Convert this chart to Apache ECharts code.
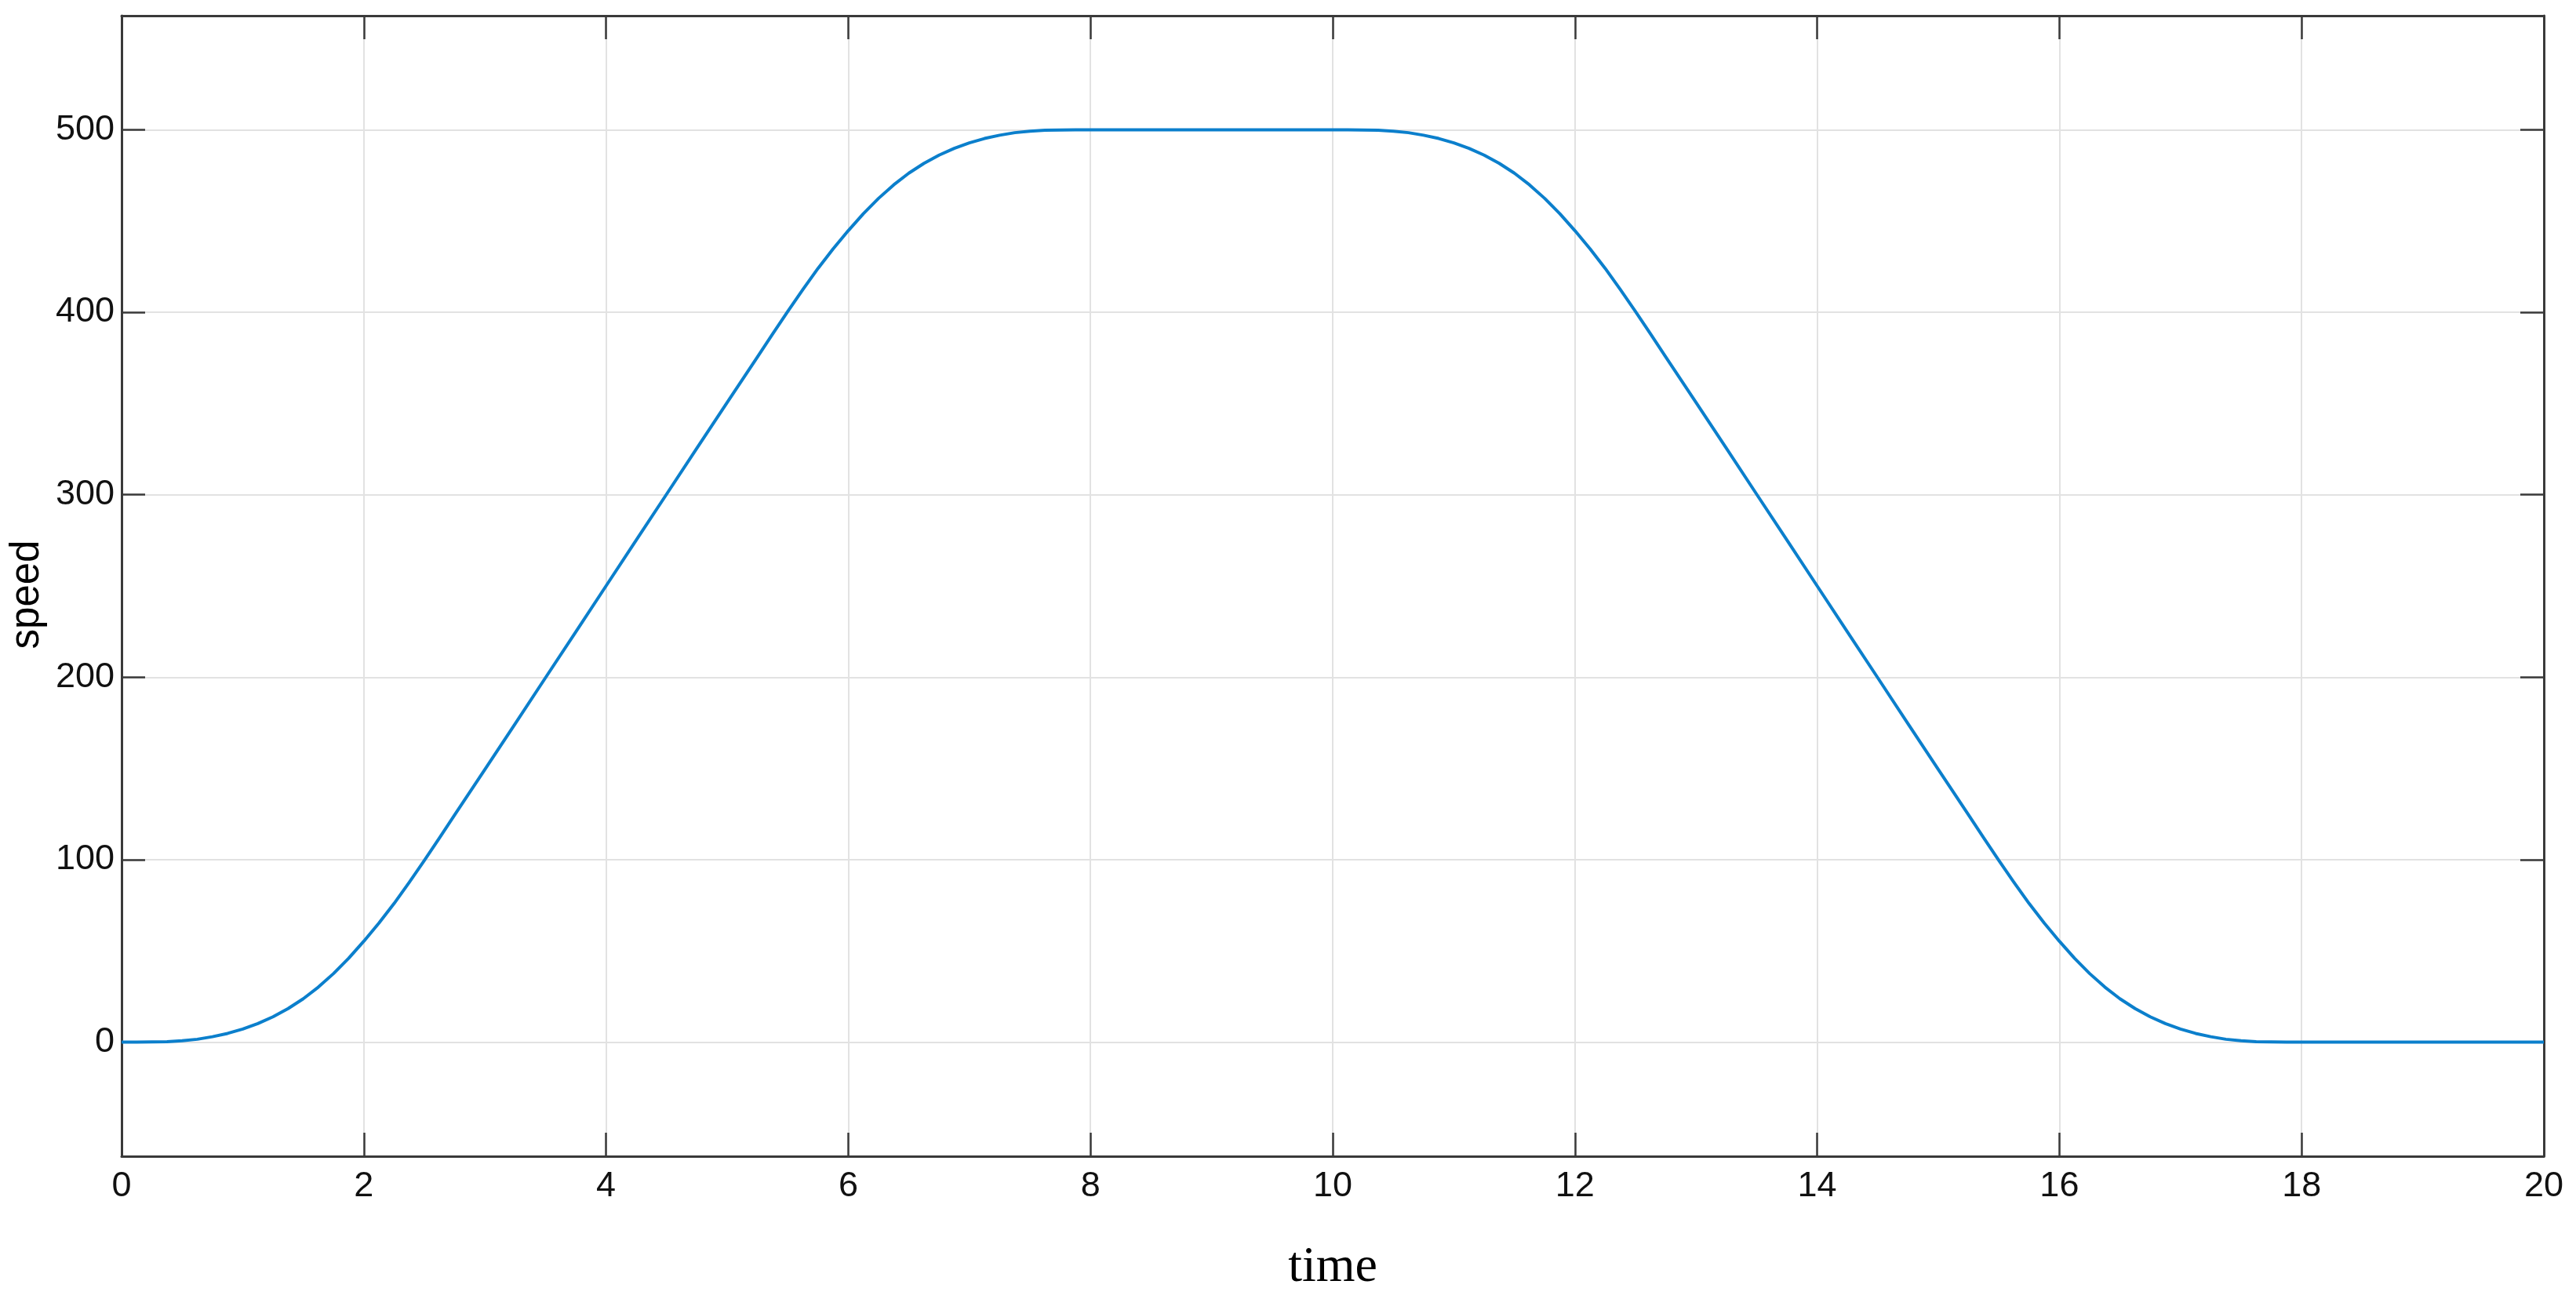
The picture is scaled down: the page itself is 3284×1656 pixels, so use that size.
<!DOCTYPE html>
<html>
<head>
<meta charset="utf-8">
<script src="https://cdn.jsdelivr.net/npm/echarts@6/dist/echarts.min.js"></script>
<style>
html,body{margin:0;padding:0;background:#fff;}
#chart{width:3284px;height:1656px;}
</style>
</head>
<body>
<div id="chart"></div>
<script>
// time samples (s) - finer where the curve bends
const time = [
  0, 0.125, 0.25, 0.375, 0.5, 0.625, 0.75, 0.875, 1, 1.125, 1.25, 1.375, 1.5, 1.625, 1.75, 1.875,
  2, 2.125, 2.25, 2.375, 2.5, 2.625, 2.75,
  3, 3.25, 3.5, 3.75, 4, 4.25, 4.5, 4.75, 5,
  5.25, 5.375, 5.5, 5.625, 5.75, 5.875, 6, 6.125, 6.25, 6.375, 6.5, 6.625, 6.75, 6.875,
  7, 7.125, 7.25, 7.375, 7.5, 7.625, 7.75, 7.875, 8,
  8.25, 8.5, 8.75, 9, 9.25, 9.5, 9.75,
  10, 10.125, 10.25, 10.375, 10.5, 10.625, 10.75, 10.875, 11, 11.125, 11.25, 11.375, 11.5, 11.625, 11.75, 11.875,
  12, 12.125, 12.25, 12.375, 12.5, 12.625, 12.75,
  13, 13.25, 13.5, 13.75, 14, 14.25, 14.5, 14.75, 15,
  15.25, 15.375, 15.5, 15.625, 15.75, 15.875, 16, 16.125, 16.25, 16.375, 16.5, 16.625, 16.75, 16.875,
  17, 17.125, 17.25, 17.375, 17.5, 17.625, 17.75, 17.875, 18,
  18.25, 18.5, 18.75, 19, 19.25, 19.5, 19.75, 20
];
// speed
const speed = [
  0, 0, 0.1, 0.3, 0.8, 1.6, 3.0, 4.8, 7.2, 10.2, 13.9, 18.4, 23.8, 30.2, 37.6, 46.0,
  55.3, 65.3, 76.0, 87.6, 99.6, 112.0, 124.5,
  149.5, 174.5, 199.7, 224.8, 250, 275.2, 300.3, 325.5, 350.5,
  375.5, 388.0, 400.4, 412.4, 424.0, 434.7, 444.7, 454.0, 462.4, 469.8, 476.2, 481.6, 486.1, 489.8,
  492.8, 495.2, 497.0, 498.4, 499.2, 499.7, 499.9, 500, 500,
  500, 500, 500, 500, 500, 500, 500,
  500, 500, 499.9, 499.7, 499.2, 498.4, 497.0, 495.2, 492.8, 489.8, 486.1, 481.6, 476.2, 469.8, 462.4, 454.0,
  444.7, 434.7, 424.0, 412.4, 400.4, 388.0, 375.5,
  350.5, 325.5, 300.3, 275.2, 250, 224.8, 199.7, 174.5, 149.5,
  124.5, 112.0, 99.6, 87.6, 76.0, 65.3, 55.3, 46.0, 37.6, 30.2, 23.8, 18.4, 13.9, 10.2,
  7.2, 4.8, 3.0, 1.6, 0.8, 0.3, 0.1, 0, 0,
  0, 0, 0, 0, 0, 0, 0, 0
];
const xTicks = [0, 2, 4, 6, 8, 10, 12, 14, 16, 18, 20];
const yTicks = [0, 100, 200, 300, 400, 500];
const xName = 'time';
const yName = 'speed';

const points = time.map((t, i) => [t, speed[i]]);
const axisCol = '#3a3a3a';
const txtCol = '#111111';
const gridCol = '#e2e2e2';

const chart = echarts.init(document.getElementById('chart'), null, {renderer: 'canvas'});
const xCommon = {
  type: 'value', min: xTicks[0], max: xTicks[xTicks.length - 1], interval: 2,
  axisLine: {show: true, onZero: false, lineStyle: {color: axisCol, width: 3}},
  axisTick: {show: true, inside: true, length: 30, lineStyle: {color: axisCol, width: 2.5}}
};
const yCommon = {
  type: 'value', min: -62.5, max: 562.5, splitNumber: 6,
  axisLine: {show: true, onZero: false, lineStyle: {color: axisCol, width: 3}},
  axisTick: {show: true, inside: true, length: 30, lineStyle: {color: axisCol, width: 2.5}}
};
chart.setOption({
  animation: false,
  backgroundColor: '#ffffff',
  grid: {left: 155, right: 41, top: 20, bottom: 182, containLabel: false},
  xAxis: [
    Object.assign({}, xCommon, {
      position: 'bottom',
      name: xName, nameLocation: 'middle', nameGap: 110,
      nameTextStyle: {fontFamily: 'Liberation Serif', fontSize: 64, color: '#000'},
      axisLabel: {fontFamily: 'Liberation Sans', fontSize: 45, color: txtCol, margin: 16},
      splitLine: {show: true, lineStyle: {color: gridCol, width: 2}}
    }),
    Object.assign({}, xCommon, {
      position: 'top',
      axisLabel: {show: false},
      splitLine: {show: false}
    })
  ],
  yAxis: [
    Object.assign({}, yCommon, {
      position: 'left',
      name: yName, nameLocation: 'middle', nameGap: 88,
      nameTextStyle: {fontFamily: 'Liberation Sans', fontSize: 51, color: '#000', padding: [0, 22, 0, 0]},
      axisLabel: {
        fontFamily: 'Liberation Sans', fontSize: 45, color: txtCol, margin: 9,
        showMinLabel: false, showMaxLabel: false,
        formatter: v => (yTicks.indexOf(v) >= 0 ? String(v) : '')
      },
      splitLine: {show: true, lineStyle: {color: gridCol, width: 2}}
    }),
    Object.assign({}, yCommon, {
      position: 'right',
      axisLabel: {show: false},
      splitLine: {show: false}
    })
  ],
  series: [{
    type: 'line',
    data: points,
    xAxisIndex: 0, yAxisIndex: 0,
    showSymbol: false,
    smooth: false,
    lineStyle: {color: '#0b7fcc', width: 4, join: 'round'},
    z: 5
  }]
});
</script>
</body>
</html>
